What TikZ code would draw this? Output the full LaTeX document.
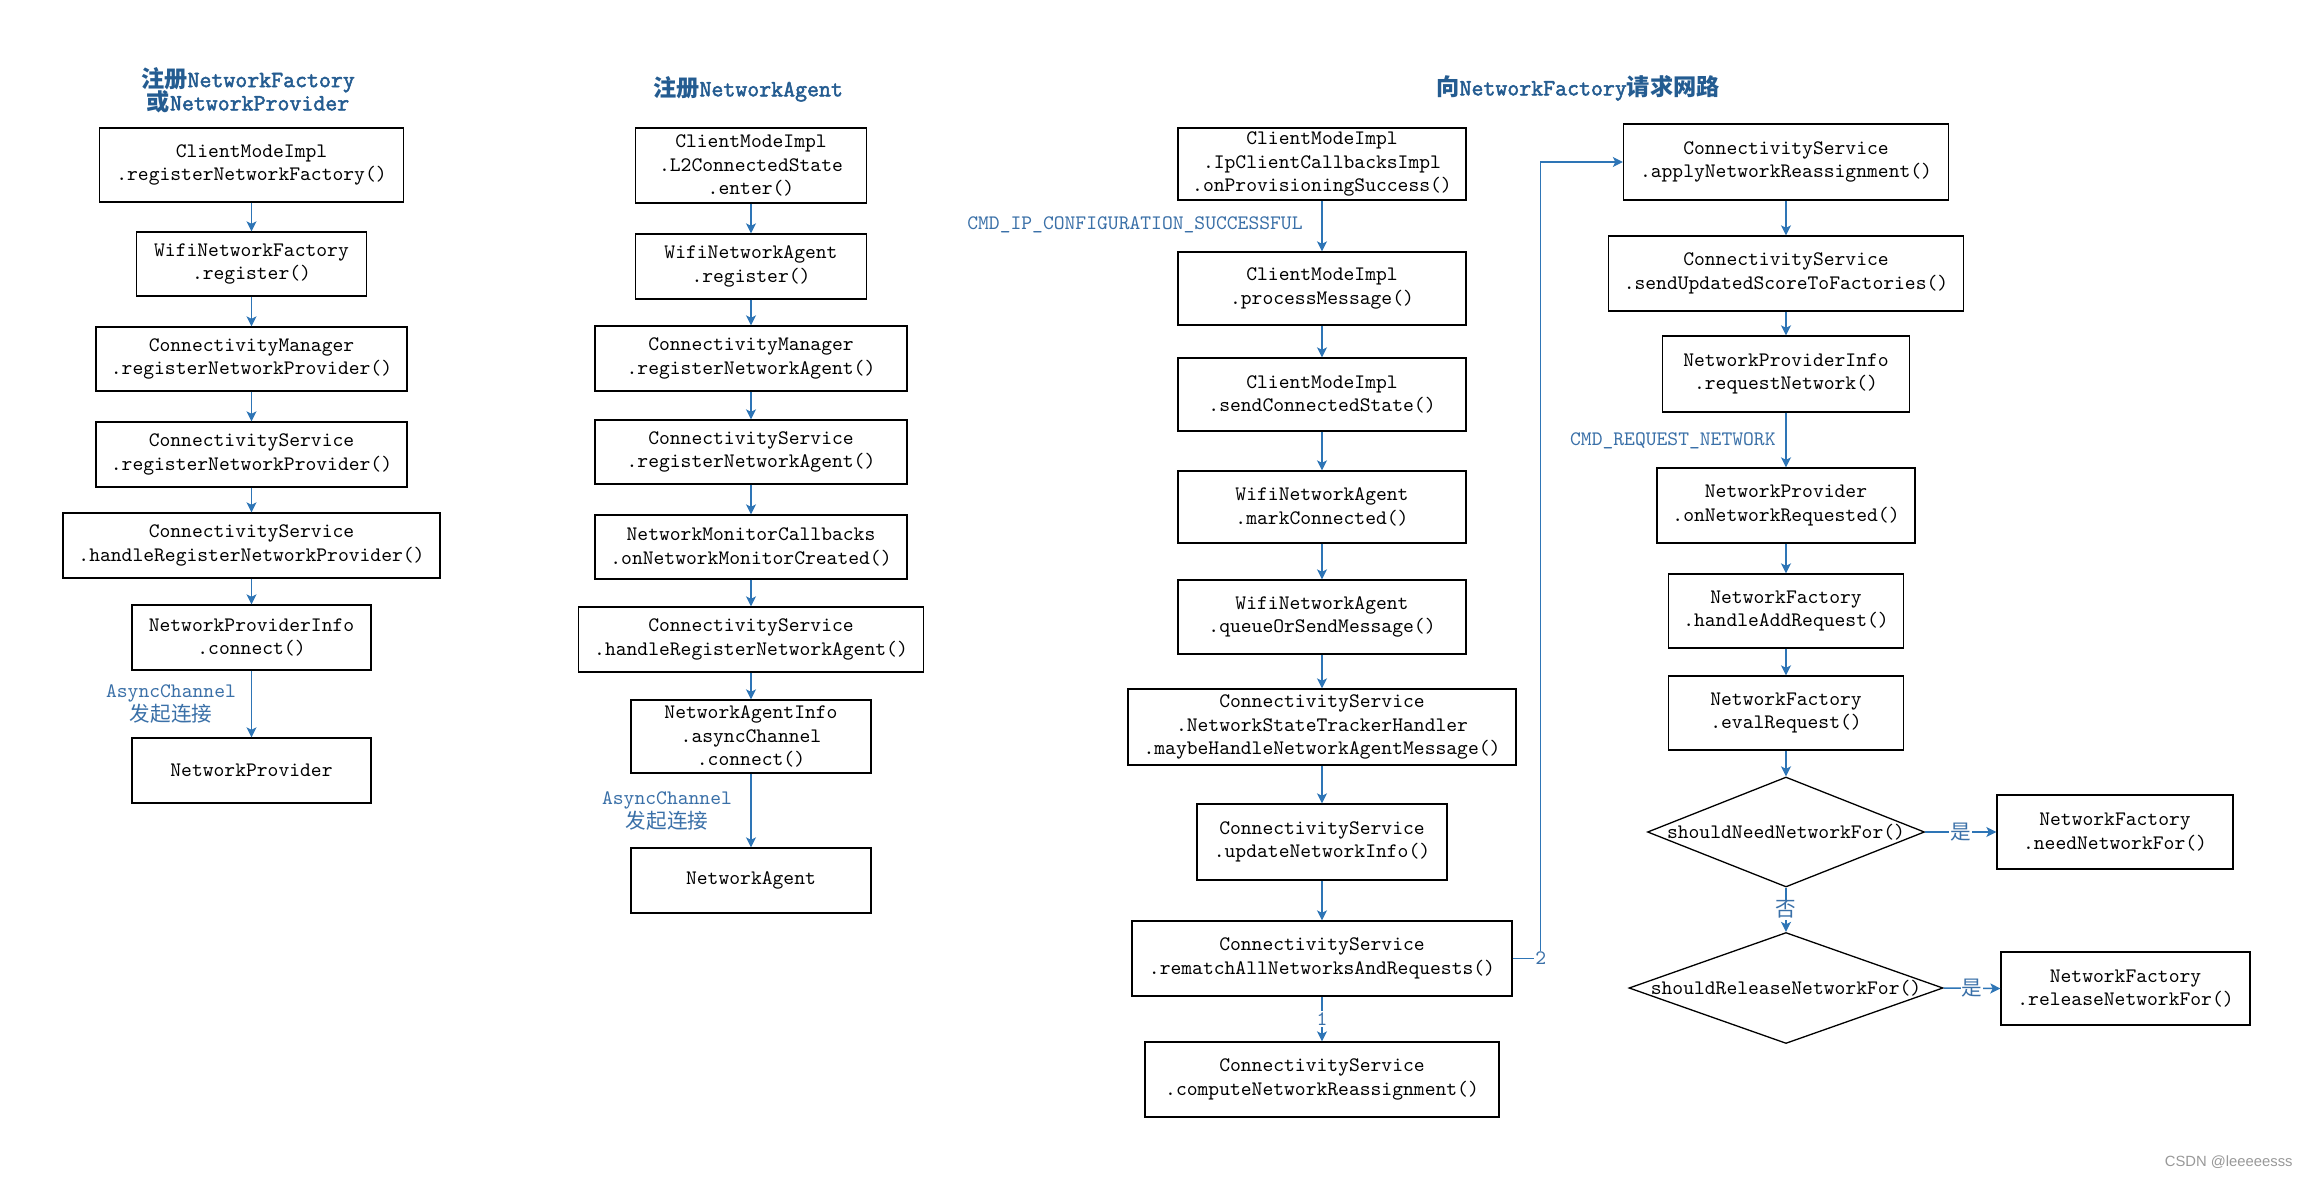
\documentclass[tikz,border=0pt]{standalone}
\usepackage{fontspec}
\newfontfamily\cjk{Noto Sans CJK SC}
\newfontfamily\wmfont{Liberation Sans}
\newfontfamily\ttbold{Latin Modern Mono}[FakeBold=2.2]
\usetikzlibrary{arrows.meta,shapes.geometric}
\definecolor{titleblue}{HTML}{245C91}
\definecolor{lblue}{HTML}{3A70A8}
\definecolor{arrowblue}{HTML}{2E75B6}
\newcommand\boxfont{\fontsize{10.3}{11.7}\selectfont\ttfamily}
\newcommand\mytitlefont{\fontsize{11.6}{11.5}\selectfont\ttbold}
\tikzset{
  box/.style={draw=black, line width=0.65pt, align=center, inner sep=0pt, font=\boxfont, text=black},
  dia/.style={draw=black, line width=0.65pt, diamond, inner sep=0pt},
  arr/.style={draw=arrowblue, line width=0.75pt, -{Stealth[length=5pt,width=5pt,inset=1.2pt]}},
  lbl/.style={text=lblue, font=\boxfont, align=center, inner sep=1pt},
  ttl/.style={text=titleblue, font=\mytitlefont, align=center, inner sep=0pt},
}
\begin{document}
\begin{tikzpicture}[x=0.5pt,y=-0.5pt]
\useasboundingbox[fill=white] (0,0) rectangle (2309,1177);

% ---------- column 1 ----------
\node[ttl] (t1) at (248,90) {{\cjk\bfseries 注册}NetworkFactory\\[-2pt]{\cjk\bfseries 或}NetworkProvider};
\node[box, minimum width=152pt,   minimum height=37pt]   (c1a) at (251.5,165)   {ClientModeImpl\\.registerNetworkFactory()};
\node[box, minimum width=115pt,   minimum height=32pt]   (c1b) at (251.5,264)   {WifiNetworkFactory\\.register()};
\node[box, minimum width=155.5pt, minimum height=32pt]   (c1c) at (251.5,359)   {ConnectivityManager\\.registerNetworkProvider()};
\node[box, minimum width=155.5pt, minimum height=32.5pt] (c1d) at (251.5,454.5) {ConnectivityService\\.registerNetworkProvider()};
\node[box, minimum width=188.5pt, minimum height=32.5pt] (c1e) at (251.5,545.5) {ConnectivityService\\.handleRegisterNetworkProvider()};
\node[box, minimum width=119.5pt, minimum height=32.5pt] (c1f) at (251.5,637.5) {NetworkProviderInfo\\.connect()};
\node[box, minimum width=119.5pt, minimum height=32.5pt] (c1g) at (251.5,770.5) {NetworkProvider};
\node[lbl] (l1) at (171,704) {AsyncChannel\\{\cjk 发起连接}};
\draw[arr] (c1a) -- (c1b);
\draw[arr] (c1b) -- (c1c);
\draw[arr] (c1c) -- (c1d);
\draw[arr] (c1d) -- (c1e);
\draw[arr] (c1e) -- (c1f);
\draw[arr] (c1f) -- (c1g);

% ---------- column 2 ----------
\node[ttl] (t2) at (748,89) {{\cjk\bfseries 注册}NetworkAgent};
\node[box, minimum width=115.5pt, minimum height=37.5pt] (c2a) at (751,165.5) {ClientModeImpl\\.L2ConnectedState\\.enter()};
\node[box, minimum width=115.5pt, minimum height=32.5pt] (c2b) at (751,266.5) {WifiNetworkAgent\\.register()};
\node[box, minimum width=156pt,   minimum height=32.5pt] (c2c) at (751,358.5) {ConnectivityManager\\.registerNetworkAgent()};
\node[box, minimum width=156pt,   minimum height=32pt]   (c2d) at (751,452)   {ConnectivityService\\.registerNetworkAgent()};
\node[box, minimum width=156pt,   minimum height=32pt]   (c2e) at (751,547)   {NetworkMonitorCallbacks\\.onNetworkMonitorCreated()};
\node[box, minimum width=172.5pt, minimum height=32.5pt] (c2f) at (751,639.5) {ConnectivityService\\.handleRegisterNetworkAgent()};
\node[box, minimum width=120pt,   minimum height=36.5pt] (c2g) at (751,736.5) {NetworkAgentInfo\\.asyncChannel\\.connect()};
\node[box, minimum width=120pt,   minimum height=32.5pt] (c2h) at (751,880.5) {NetworkAgent};
\node[lbl] (l2) at (667,811) {AsyncChannel\\{\cjk 发起连接}};
\draw[arr] (c2a) -- (c2b);
\draw[arr] (c2b) -- (c2c);
\draw[arr] (c2c) -- (c2d);
\draw[arr] (c2d) -- (c2e);
\draw[arr] (c2e) -- (c2f);
\draw[arr] (c2f) -- (c2g);
\draw[arr] (c2g) -- (c2h);

% ---------- column 3 ----------
\node[ttl] (t3) at (1578,88) {{\cjk\bfseries 向}NetworkFactory{\cjk\bfseries 请求网路}};
\node[box, minimum width=144pt,   minimum height=36pt]   (c3a) at (1322,164)    {ClientModeImpl\\.IpClientCallbacksImpl\\.onProvisioningSuccess()};
\node[box, minimum width=144pt,   minimum height=36.5pt] (c3b) at (1322,288.5)  {ClientModeImpl\\.processMessage()};
\node[box, minimum width=144pt,   minimum height=36.5pt] (c3c) at (1322,394.5)  {ClientModeImpl\\.sendConnectedState()};
\node[box, minimum width=144pt,   minimum height=36pt]   (c3d) at (1322,507)    {WifiNetworkAgent\\.markConnected()};
\node[box, minimum width=144pt,   minimum height=37pt]   (c3e) at (1322,617)    {WifiNetworkAgent\\.queueOrSendMessage()};
\node[box, minimum width=194pt,   minimum height=38pt]   (c3f) at (1322,727)    {ConnectivityService\\.NetworkStateTrackerHandler\\.maybeHandleNetworkAgentMessage()};
\node[box, minimum width=125pt,   minimum height=38pt]   (c3g) at (1322,842)    {ConnectivityService\\.updateNetworkInfo()};
\node[box, minimum width=190pt,   minimum height=37.5pt] (c3h) at (1322,958.5)  {ConnectivityService\\.rematchAllNetworksAndRequests()};
\node[box, minimum width=177pt,   minimum height=37.5pt] (c3i) at (1322,1079.5) {ConnectivityService\\.computeNetworkReassignment()};
\node[lbl, anchor=east] (l3) at (1305,225) {CMD\_IP\_CONFIGURATION\_SUCCESSFUL};
\draw[arr] (c3a) -- (c3b);
\draw[arr] (c3b) -- (c3c);
\draw[arr] (c3c) -- (c3d);
\draw[arr] (c3d) -- (c3e);
\draw[arr] (c3e) -- (c3f);
\draw[arr] (c3f) -- (c3g);
\draw[arr] (c3g) -- (c3h);
\draw[arr] (c3h) -- node[lbl, fill=white] {1} (c3i);

% ---------- column 4 ----------
\node[box, minimum width=162.5pt, minimum height=38pt]   (c4a) at (1786,162)   {ConnectivityService\\.applyNetworkReassignment()};
\node[box, minimum width=177.5pt, minimum height=37.5pt] (c4b) at (1786,273.5) {ConnectivityService\\.sendUpdatedScoreToFactories()};
\node[box, minimum width=123.5pt, minimum height=38pt]   (c4c) at (1786,374)   {NetworkProviderInfo\\.requestNetwork()};
\node[box, minimum width=129pt,   minimum height=37.5pt] (c4d) at (1786,505.5) {NetworkProvider\\.onNetworkRequested()};
\node[box, minimum width=117.5pt, minimum height=37pt]   (c4e) at (1786,611)   {NetworkFactory\\.handleAddRequest()};
\node[box, minimum width=117.5pt, minimum height=37pt]   (c4f) at (1786,713)   {NetworkFactory\\.evalRequest()};
\node[dia, minimum width=138.5pt, minimum height=55pt]   (d1)  at (1786,832)   {};
\node[font=\boxfont, inner sep=0pt] (d1t) at (d1.center) {shouldNeedNetworkFor()};
\node[dia, minimum width=157pt,   minimum height=55.5pt] (d2)  at (1786,988)   {};
\node[font=\boxfont, inner sep=0pt] (d2t) at (d2.center) {shouldReleaseNetworkFor()};
\node[box, minimum width=118pt,   minimum height=37pt]   (c4g) at (2115,832)   {NetworkFactory\\.needNetworkFor()};
\node[box, minimum width=124.5pt, minimum height=36.5pt] (c4h) at (2125.5,988.5) {NetworkFactory\\.releaseNetworkFor()};
\node[lbl, anchor=east] (l4) at (1778,441) {CMD\_REQUEST\_NETWORK};
\draw[arr] (c4a) -- (c4b);
\draw[arr] (c4b) -- (c4c);
\draw[arr] (c4c) -- (c4d);
\draw[arr] (c4d) -- (c4e);
\draw[arr] (c4e) -- (c4f);
\draw[arr] (c4f) -- (d1);
\draw[arr] (d1.south) -- node[lbl, fill=white, inner sep=0.5pt] {\cjk 否} (d2.north);
\draw[arr] (d1.east) -- node[lbl, fill=white, inner sep=0.5pt] {\cjk 是} (c4g.west);
\draw[arr] (d2.east) -- node[lbl, fill=white, inner sep=0.5pt] {\cjk 是} (c4h.west);

% connector 2
\draw[arr] (c3h.east) -- ++(28,0) node[lbl, fill=white, inner sep=0.5pt, anchor=center] {2} |- (c4a.west);

% watermark
\node[text=black!40, font=\wmfont\fontsize{7.4}{8}\selectfont, anchor=east, inner sep=0pt] (wm) at (2293,1162) {CSDN @leeeeesss};
\end{tikzpicture}
\end{document}
